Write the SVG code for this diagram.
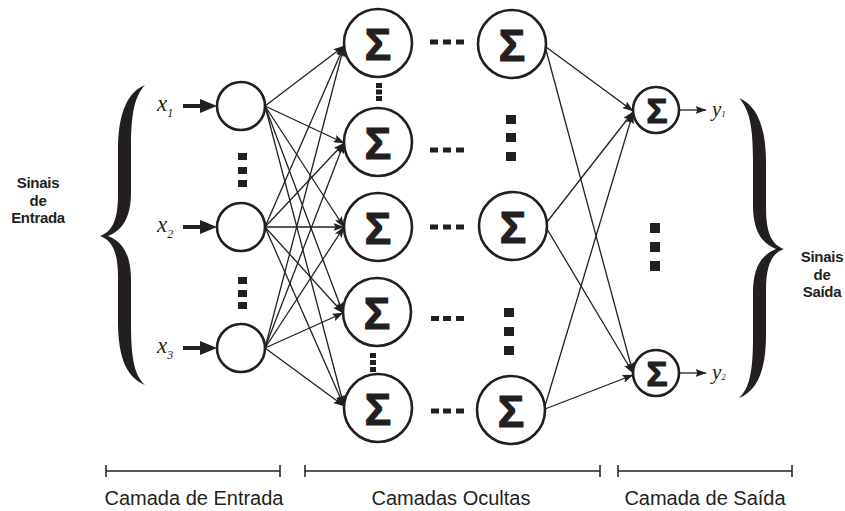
<svg xmlns="http://www.w3.org/2000/svg" width="845" height="511" viewBox="0 0 845 511">
<defs>
<marker id="big" markerUnits="userSpaceOnUse" markerWidth="17" markerHeight="14" refX="5" refY="7" orient="auto"><path d="M0,0 L17,7 L0,14 Z" fill="#231f20"/></marker>
<marker id="arr" markerUnits="userSpaceOnUse" markerWidth="11" markerHeight="8" refX="10.5" refY="4" orient="auto"><path d="M0,0 L11,4 L0,8 L2,4 Z" fill="#231f20"/></marker>
<style>
.n{fill:#fff;stroke:#231f20;stroke-width:2.6}
.sig{font-family:"Liberation Sans",Arial,sans-serif;font-weight:bold;fill:#231f20;stroke:#231f20;stroke-width:1.2;text-anchor:middle}
.c{fill:none;stroke:#231f20;stroke-width:1.3;marker-end:url(#arr)}
.in{fill:none;stroke:#231f20;stroke-width:4;marker-end:url(#big)}
.dot{fill:#231f20}
.var{font-family:"Liberation Serif","Times New Roman",serif;font-style:italic;fill:#231f20}
.lab{font-family:"Liberation Sans",Arial,sans-serif;font-weight:bold;font-size:15px;letter-spacing:-0.3px;fill:#231f20;text-anchor:middle}
.cap{font-family:"Liberation Sans",Arial,sans-serif;font-size:20px;fill:#231f20;text-anchor:middle}
.bar{fill:none;stroke:#231f20;stroke-width:1.5}
</style>
<path id="brace" d="M145,85 C128,92 118,112 118,150 L118,195 C118,220 112,232 100,236 C112,240 118,252 118,277 L118,322 C118,360 128,378 145,385 C135,376 131,360 131,325 L131,280 C131,255 123,242 108,236 C123,230 131,217 131,192 L131,147 C131,112 135,96 145,85 Z" fill="#231f20"/>
</defs>
<rect width="845" height="511" fill="#fff"/>

<g id="connectors">
<path class="c" d="M265,106 L344,46"/>
<path class="c" d="M265,106 L344,143"/>
<path class="c" d="M265,106 L344,227"/>
<path class="c" d="M265,106 L343,313"/>
<path class="c" d="M265,106 L344,406"/>
<path class="c" d="M265,227 L344,46"/>
<path class="c" d="M265,227 L344,143"/>
<path class="c" d="M265,227 L344,227"/>
<path class="c" d="M265,227 L343,313"/>
<path class="c" d="M265,227 L344,406"/>
<path class="c" d="M265,348 L344,46"/>
<path class="c" d="M265,348 L344,143"/>
<path class="c" d="M265,348 L344,227"/>
<path class="c" d="M265,348 L343,313"/>
<path class="c" d="M265,348 L344,406"/>
<path class="c" d="M546,47 L633,111"/>
<path class="c" d="M546,50 L633,373"/>
<path class="c" d="M547,222 L633,112"/>
<path class="c" d="M547,229 L633,373"/>
<path class="c" d="M545,406 L633,113"/>
<path class="c" d="M545,409 L633,375"/>
<path class="in" d="M183,106 L205,106"/>
<path class="in" d="M183,227 L205,227"/>
<path class="in" d="M183,348 L205,348"/>
<path class="c" d="M680,110 L706,110"/>
<path class="c" d="M680,373 L706,373"/>
</g>

<g id="input1"><circle class="n" cx="241" cy="106" r="24"/></g>
<g id="input2"><circle class="n" cx="241" cy="227" r="24"/></g>
<g id="input3"><circle class="n" cx="241" cy="348" r="24"/></g>

<g id="h1-1"><circle class="n" cx="378" cy="43" r="34"/><text class="sig" x="378" y="60" font-size="44">Σ</text></g>
<g id="h1-2"><circle class="n" cx="378" cy="142" r="34"/><text class="sig" x="378" y="159" font-size="44">Σ</text></g>
<g id="h1-3"><circle class="n" cx="378" cy="227" r="34"/><text class="sig" x="378" y="244" font-size="44">Σ</text></g>
<g id="h1-4"><circle class="n" cx="377" cy="312" r="34"/><text class="sig" x="377" y="329" font-size="44">Σ</text></g>
<g id="h1-5"><circle class="n" cx="378" cy="408" r="34"/><text class="sig" x="378" y="425" font-size="44">Σ</text></g>

<g id="h2-1"><circle class="n" cx="512" cy="44" r="34"/><text class="sig" x="512" y="61" font-size="44">Σ</text></g>
<g id="h2-3"><circle class="n" cx="513" cy="226" r="34"/><text class="sig" x="513" y="243" font-size="44">Σ</text></g>
<g id="h2-5"><circle class="n" cx="511" cy="410" r="34"/><text class="sig" x="511" y="427" font-size="44">Σ</text></g>

<g id="out1"><circle class="n" cx="656" cy="110" r="23"/><text class="sig" x="657" y="123" font-size="35">Σ</text></g>
<g id="out2"><circle class="n" cx="656" cy="373" r="23"/><text class="sig" x="657" y="386" font-size="35">Σ</text></g>

<g id="dots">
<rect class="dot" x="238" y="153" width="9" height="7"/>
<rect class="dot" x="238" y="167" width="9" height="7"/>
<rect class="dot" x="238" y="180" width="9" height="7"/>
<rect class="dot" x="238" y="277" width="9" height="7"/>
<rect class="dot" x="238" y="290" width="9" height="7"/>
<rect class="dot" x="238" y="302" width="9" height="7"/>
<rect class="dot" x="376" y="83" width="6" height="5"/>
<rect class="dot" x="376" y="89.5" width="6" height="5"/>
<rect class="dot" x="376" y="96" width="6" height="5"/>
<rect class="dot" x="370" y="353" width="6" height="5"/>
<rect class="dot" x="370" y="360" width="6" height="5"/>
<rect class="dot" x="370" y="367" width="6" height="5"/>
<rect class="dot" x="430" y="39.5" width="8" height="5"/>
<rect class="dot" x="443" y="39.5" width="8" height="5"/>
<rect class="dot" x="456" y="39.5" width="8" height="5"/>
<rect class="dot" x="430" y="147.5" width="8" height="5"/>
<rect class="dot" x="443" y="147.5" width="8" height="5"/>
<rect class="dot" x="456" y="147.5" width="8" height="5"/>
<rect class="dot" x="430" y="224.5" width="8" height="5"/>
<rect class="dot" x="443" y="224.5" width="8" height="5"/>
<rect class="dot" x="456" y="224.5" width="8" height="5"/>
<rect class="dot" x="431" y="316" width="8" height="5"/>
<rect class="dot" x="443" y="316" width="8" height="5"/>
<rect class="dot" x="456" y="316" width="8" height="5"/>
<rect class="dot" x="431" y="408.5" width="8" height="5"/>
<rect class="dot" x="443" y="408.5" width="8" height="5"/>
<rect class="dot" x="456" y="408.5" width="8" height="5"/>
<rect class="dot" x="506" y="115" width="10" height="9"/>
<rect class="dot" x="506" y="133" width="10" height="9"/>
<rect class="dot" x="506" y="152" width="10" height="9"/>
<rect class="dot" x="504" y="308" width="10" height="9"/>
<rect class="dot" x="504" y="327" width="10" height="9"/>
<rect class="dot" x="504" y="346" width="10" height="9"/>
<rect class="dot" x="650" y="223" width="10" height="10"/>
<rect class="dot" x="650" y="242" width="10" height="10"/>
<rect class="dot" x="650" y="261" width="10" height="10"/>
</g>

<g id="labels">
<text class="var" x="157" y="111" font-size="23">x<tspan font-size="12" dy="6">1</tspan></text>
<text class="var" x="157" y="232" font-size="23">x<tspan font-size="12" dy="6">2</tspan></text>
<text class="var" x="157" y="353" font-size="23">x<tspan font-size="12" dy="6">3</tspan></text>
<text class="var" x="712" y="116" font-size="21">y<tspan font-size="9" dy="1">1</tspan></text>
<text class="var" x="712" y="379" font-size="21">y<tspan font-size="9" dy="1">2</tspan></text>
</g>

<g id="braces">
<use href="#brace"/>
<use href="#brace" transform="translate(884,13) scale(-1,1)"/>
</g>

<g id="side-text">
<text class="lab" x="38" y="188">Sinais</text>
<text class="lab" x="38" y="205.5">de</text>
<text class="lab" x="38" y="223">Entrada</text>
<text class="lab" x="822" y="262">Sinais</text>
<text class="lab" x="822" y="279.5">de</text>
<text class="lab" x="822" y="297">Saída</text>
</g>

<g id="layers">
<path class="bar" d="M106,471 H280 M106,465 V477 M280,465 V477"/>
<path class="bar" d="M305,471 H600 M305,465 V477 M600,465 V477"/>
<path class="bar" d="M618,471 H792 M618,465 V477 M792,465 V477"/>
<text class="cap" x="194" y="505">Camada de Entrada</text>
<text class="cap" x="451" y="505">Camadas Ocultas</text>
<text class="cap" x="705" y="505">Camada de Saída</text>
</g>
</svg>
